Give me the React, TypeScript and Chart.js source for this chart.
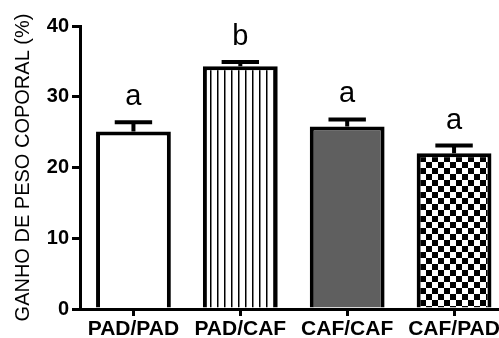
import React, { useEffect, useRef } from "react";
import { Chart, registerables } from "chart.js";

Chart.register(...registerables);

const categories = ["PAD/PAD", "PAD/CAF", "CAF/CAF", "CAF/PAD"];
const meanValues = [25.1, 34.3, 25.8, 22.0];
const semValues = [1.3, 0.6, 1.0, 1.1];
const groupLetters = ["a", "b", "a", "a"];
const yTitle = "GANHO DE PESO COPORAL (%)";
const yMin = 0;
const yMax = 40;
const yStep = 10;

const FONT = "'Liberation Sans', Arial, Helvetica, sans-serif";

function makeStripes(ctx: CanvasRenderingContext2D) {
  const c = document.createElement("canvas");
  c.width = 7;
  c.height = 4;
  const g = c.getContext("2d")!;
  g.fillStyle = "#ffffff";
  g.fillRect(0, 0, 7, 4);
  g.fillStyle = "#000000";
  g.fillRect(0, 0, 1.5, 4);
  return ctx.createPattern(c, "repeat");
}

function makeChecker(ctx: CanvasRenderingContext2D) {
  const c = document.createElement("canvas");
  c.width = 12;
  c.height = 12;
  const g = c.getContext("2d")!;
  g.fillStyle = "#ffffff";
  g.fillRect(0, 0, 12, 12);
  g.fillStyle = "#000000";
  g.fillRect(0, 0, 6, 6);
  g.fillRect(6, 6, 6, 6);
  return ctx.createPattern(c, "repeat");
}

const errorBarPlugin = {
  id: "errorBarsAndLetters",
  afterDatasetsDraw(chart: any) {
    const meta = chart.getDatasetMeta(0);
    const y = chart.scales.y;
    const ctx = chart.ctx as CanvasRenderingContext2D;
    ctx.save();
    ctx.strokeStyle = "#000";
    ctx.lineWidth = 4;
    meta.data.forEach((bar: any, i: number) => {
      const top = y.getPixelForValue(meanValues[i] + semValues[i]);
      const base = y.getPixelForValue(meanValues[i]);
      const x = bar.x;
      const half = bar.width * 0.25;
      ctx.beginPath();
      ctx.moveTo(x, base);
      ctx.lineTo(x, top);
      ctx.moveTo(x - half, top);
      ctx.lineTo(x + half, top);
      ctx.stroke();
      ctx.font = `29px ${FONT}`;
      ctx.fillStyle = "#000";
      ctx.textAlign = "center";
      ctx.textBaseline = "alphabetic";
      ctx.fillText(groupLetters[i], x, top - 17);
    });
    ctx.restore();
  },
};

export default function App() {
  const ref = useRef<HTMLCanvasElement | null>(null);

  useEffect(() => {
    const canvas = ref.current!;
    const ctx = canvas.getContext("2d")!;
    const fills = ["#ffffff", makeStripes(ctx), "#5f5f5f", makeChecker(ctx)];
    const chart = new Chart(canvas, {
      type: "bar",
      data: {
        labels: categories,
        datasets: [
          {
            data: meanValues,
            backgroundColor: fills as any,
            borderColor: "#000",
            borderWidth: 4,
            borderSkipped: "start",
            categoryPercentage: 1,
            barPercentage: 0.7,
          },
        ],
      },
      options: {
        responsive: false,
        animation: false,
        devicePixelRatio: 1,
        layout: { padding: { top: 26, right: 12.5, bottom: 0, left: 0 } },
        plugins: {
          legend: { display: false },
          tooltip: { enabled: false },
        },
        scales: {
          x: {
            afterFit: (s: any) => {
              s.height = 29;
            },
            grid: {
              display: true,
              offset: false,
              drawOnChartArea: false,
              drawTicks: true,
              tickLength: 7,
              lineWidth: 3,
              color: "#000",
            },
            border: { display: true, width: 3, color: "#000" },
            ticks: {
              color: "#000",
              padding: 1,
              maxRotation: 0,
              font: { family: FONT, size: 21, weight: "bold" },
            },
          },
          y: {
            min: yMin,
            max: yMax,
            afterFit: (s: any) => {
              s.width = 80;
            },
            grid: {
              display: true,
              drawOnChartArea: false,
              drawTicks: true,
              tickLength: 8,
              lineWidth: 3,
              color: "#000",
            },
            border: { display: true, width: 3, color: "#000" },
            ticks: {
              stepSize: yStep,
              color: "#000",
              padding: 3,
              font: { family: FONT, size: 20, weight: "bold" },
            },
            title: {
              display: true,
              text: yTitle,
              color: "#000",
              padding: { top: 11, bottom: 0 },
              font: { family: FONT, size: 20, weight: "normal" },
            },
          },
        },
      },
      plugins: [errorBarPlugin],
    });
    return () => chart.destroy();
  }, []);

  return (
    <div
      style={{
        position: "fixed",
        left: 0,
        top: 0,
        width: 499,
        height: 338,
        overflow: "hidden",
        background: "#fff",
      }}
    >
      <canvas ref={ref} width={520} height={338} style={{ display: "block" }} />
    </div>
  );
}
